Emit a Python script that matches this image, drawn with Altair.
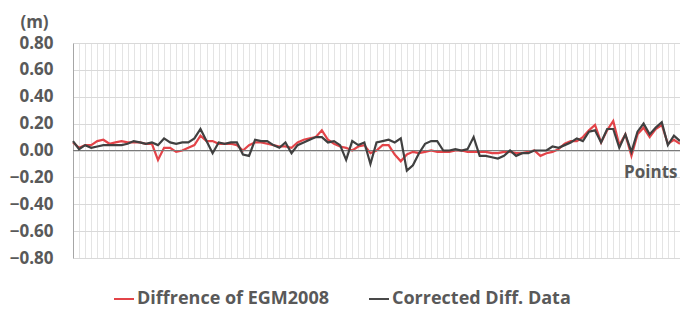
import altair as alt
import pandas as pd

# Point index (category axis)
points = list(range(101))

red_name = "Diffrence of EGM2008"
black_name = "Corrected Diff. Data"

red_values = [
    0.06, 0.02, 0.04, 0.04, 0.07, 0.08, 0.05, 0.06, 0.07, 0.06,
    0.06, 0.06, 0.05, 0.05, -0.07, 0.02, 0.02, -0.01, 0.00, 0.02,
    0.04, 0.11, 0.07, 0.07, 0.05, 0.05, 0.05, 0.04, 0.00, 0.04,
    0.06, 0.06, 0.05, 0.04, 0.03, 0.03, 0.02, 0.06, 0.08, 0.09,
    0.10, 0.15, 0.08, 0.05, 0.03, 0.02, 0.00, 0.03, 0.04, -0.02,
    0.00, 0.04, 0.04, -0.03, -0.08, -0.03, -0.01, -0.02, -0.01, 0.00,
    -0.01, -0.01, -0.01, 0.00, 0.00, -0.01, -0.01, -0.01, -0.01, -0.02,
    -0.02, -0.01, -0.01, -0.02, -0.02, -0.01, 0.00, -0.04, -0.02, -0.01,
    0.01, 0.05, 0.07, 0.07, 0.10, 0.15, 0.19, 0.06, 0.15, 0.22,
    0.04, 0.12, -0.04, 0.12, 0.17, 0.10, 0.16, 0.19, 0.05, 0.08,
    0.05,
]

black_values = [
    0.07, 0.01, 0.04, 0.02, 0.03, 0.04, 0.04, 0.04, 0.04, 0.05,
    0.07, 0.06, 0.05, 0.06, 0.04, 0.09, 0.06, 0.05, 0.06, 0.06,
    0.09, 0.16, 0.07, -0.02, 0.06, 0.05, 0.06, 0.06, -0.03, -0.04,
    0.08, 0.07, 0.07, 0.04, 0.02, 0.06, -0.02, 0.04, 0.06, 0.08,
    0.10, 0.10, 0.06, 0.07, 0.04, -0.07, 0.07, 0.04, 0.06, -0.10,
    0.06, 0.07, 0.08, 0.06, 0.09, -0.15, -0.11, -0.02, 0.05, 0.07,
    0.07, 0.00, 0.00, 0.01, 0.00, 0.01, 0.10, -0.04, -0.04, -0.05,
    -0.06, -0.04, 0.00, -0.04, -0.02, -0.02, 0.00, 0.00, 0.00, 0.03,
    0.02, 0.04, 0.06, 0.09, 0.07, 0.14, 0.15, 0.06, 0.16, 0.16,
    0.02, 0.12, -0.01, 0.14, 0.20, 0.12, 0.17, 0.21, 0.04, 0.11,
    0.07,
]

y_ticks = [-0.8, -0.6, -0.4, -0.2, 0.0, 0.2, 0.4, 0.6, 0.8]

red_df = pd.DataFrame({"point": points, "value": red_values, "series": red_name})
black_df = pd.DataFrame({"point": points, "value": black_values, "series": black_name})
zero_df = pd.DataFrame({"value": [0.0]})

FONT = "Open Sans"
TXT = "#595959"

x_axis = alt.Axis(
    values=points,
    grid=True,
    gridColor="#e4e4e4",
    gridWidth=1,
    labels=False,
    ticks=False,
    domain=False,
    title="Points",
    titleFont=FONT,
    titleFontSize=17,
    titleFontWeight="bold",
    titleColor=TXT,
    titleX=604,
    titleY=-86,
    titleAlign="right",
    titleBaseline="middle",
)
x_scale = alt.Scale(domain=[0, 100], nice=False, zero=False)

y_axis = alt.Axis(
    values=y_ticks,
    format=".2f",
    grid=True,
    gridColor="#d9d9d9",
    gridWidth=1,
    ticks=False,
    domain=True,
    domainColor="#a6a6a6",
    domainWidth=1,
    labelOverlap=False,
    labelFont=FONT,
    labelFontSize=17,
    labelFontWeight="bold",
    labelColor=TXT,
    labelPadding=20,
    title="(m)",
    titleFont=FONT,
    titleFontSize=17,
    titleFontWeight="bold",
    titleColor=TXT,
    titleAngle=0,
    titleX=-39,
    titleY=-21,
    titleAlign="center",
    titleBaseline="middle",
)
y_scale = alt.Scale(domain=[-0.8, 0.8], nice=False)

legend = alt.Legend(
    title=None,
    orient="none",
    legendX=40,
    legendY=245,
    direction="horizontal",
    symbolType="stroke",
    symbolSize=400,
    symbolStrokeWidth=2,
    labelFont=FONT,
    labelFontSize=18,
    labelFontWeight="bold",
    labelColor=TXT,
    labelOffset=2,
    labelLimit=0,
    columnPadding=36,
)
color_scale = alt.Scale(domain=[red_name, black_name], range=["#e23a3f", "#404040"])


def xe():
    return alt.X("point:Q", scale=x_scale, axis=x_axis)


def ye():
    return alt.Y("value:Q", scale=y_scale, axis=y_axis)


def ce():
    return alt.Color("series:N", scale=color_scale, legend=legend)


red_line = alt.Chart(red_df).mark_line(strokeWidth=2.2, opacity=0.95).encode(
    x=xe(), y=ye(), color=ce()
)
zero_rule = alt.Chart(zero_df).mark_rule(color="#7a7a7a", strokeWidth=1.2).encode(
    y=ye()
)
black_line = alt.Chart(black_df).mark_line(strokeWidth=2.2).encode(
    x=xe(), y=ye(), color=ce()
)

chart = (
    alt.layer(red_line, zero_rule, black_line)
    .properties(
        width=607,
        height=215,
        autosize=alt.AutoSizeParams(type="none"),
        padding={"left": 65, "top": 35, "right": 0, "bottom": 53},
        background="white",
    )
    .configure_view(stroke=None)
)

chart.save("out.html", embed_options={"renderer": "svg", "actions": False})
